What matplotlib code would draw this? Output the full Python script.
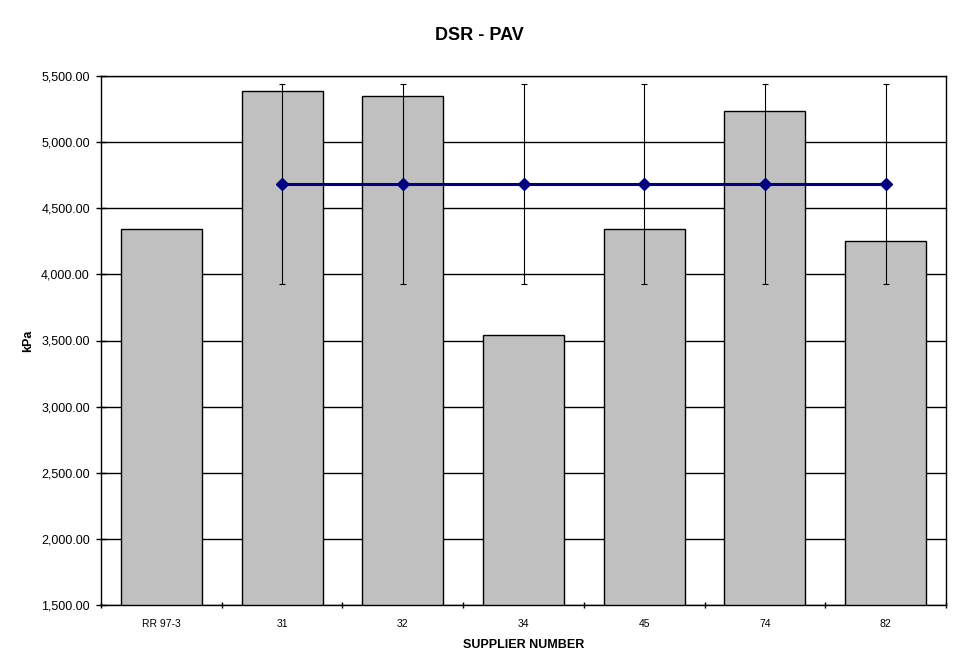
import numpy as np
import matplotlib
matplotlib.use("Agg")
import matplotlib.pyplot as plt
from matplotlib.ticker import FuncFormatter

plt.rcParams['font.family'] = ['Liberation Sans', 'DejaVu Sans']

# data
suppliers = ['RR 97-3', '31', '32', '34', '45', '74', '82']
dsr_values = [4341, 5384, 5346, 3542, 4342, 5235, 4252]
mean_values = [np.nan, 4681, 4681, 4681, 4681, 4681, 4681]
mean_err = [0, 756, 756, 756, 756, 756, 756]

fig = plt.figure(figsize=(9.59, 6.71), dpi=100)
ax = fig.add_axes([101 / 959, 1 - 605 / 671, 845 / 959, 529 / 671])

x = np.arange(len(suppliers))
ax.bar(x, dsr_values, width=0.67, color='#C0C0C0', edgecolor='black',
       linewidth=1, zorder=2)

# mean line with error bars (no point for the reference sample)
xm = x[1:]
ym = np.array(mean_values[1:])
em = np.array(mean_err[1:])
ax.errorbar(xm, ym, yerr=em, fmt='none', ecolor='black', elinewidth=0.8,
            capsize=2.5, capthick=0.8, zorder=3)
ax.plot(xm, ym, color='#000080', linewidth=2.2, marker='D', markersize=6.5,
        markerfacecolor='#000080', markeredgecolor='#000080', zorder=4)

ax.set_ylim(1500, 5500)
ax.set_xlim(-0.5, len(suppliers) - 0.5)
ax.set_yticks(np.arange(1500, 5501, 500))
ax.yaxis.set_major_formatter(FuncFormatter(lambda v, p: f'{v:,.2f}'))
ax.grid(axis='y', color='black', linewidth=1, zorder=0)
ax.set_axisbelow(True)

ax.set_xticks(x)
ax.set_xticklabels(suppliers, fontsize=7.5)
ax.set_xticks(np.arange(-0.5, len(suppliers)), minor=True)
ax.tick_params(axis='x', which='major', length=0, pad=10)
ax.tick_params(axis='x', which='minor', length=5, direction='inout', width=1)
ax.tick_params(axis='y', length=7, direction='inout', width=1, labelsize=9, pad=4.5)

for s in ax.spines.values():
    s.set_linewidth(1)
    s.set_color('black')

ax.set_ylabel('kPa', fontsize=9, fontweight='bold', labelpad=5)
ax.set_xlabel('SUPPLIER NUMBER', fontsize=9, fontweight='bold', labelpad=7)
fig.text(479 / 959, 1 - 35 / 671, 'DSR - PAV', ha='center', va='center',
         fontsize=13, fontweight='bold')

fig.savefig('out.png', dpi=100)
